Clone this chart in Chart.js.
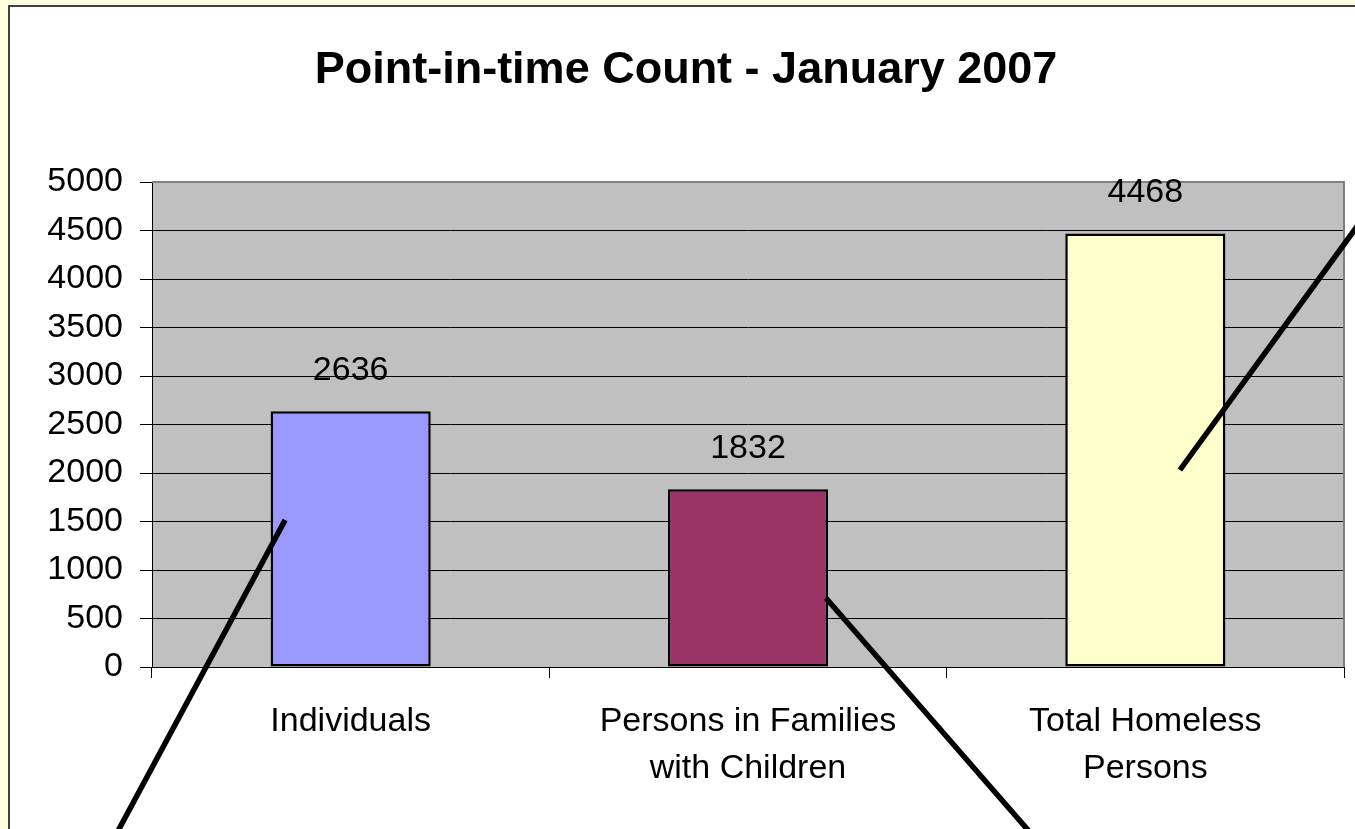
<!DOCTYPE html>
<html>
<head>
<meta charset="utf-8">
<script src="https://cdn.jsdelivr.net/npm/chart.js@4/dist/chart.umd.min.js"></script>
<style>
html,body{margin:0;padding:0;background:#FFFFE0;width:1355px;height:829px;overflow:hidden;}
#frame{position:absolute;left:8px;top:5px;width:1400px;height:900px;background:#fff;border:2px solid #404040;}
#wrap{position:absolute;left:0;top:0;width:1355px;height:829px;}
</style>
</head>
<body>
<div id="frame"></div>
<div id="wrap"><canvas id="c" width="1355" height="829"></canvas></div>
<script>
const titleText = "Point-in-time Count - January 2007";
const categories = [["Individuals"], ["Persons in Families", "with Children"], ["Total Homeless", "Persons"]];
const counts = [2636, 1832, 4468];
const barColors = ["#9999FF", "#993366", "#FFFFCC"];
const yTicks = [0, 500, 1000, 1500, 2000, 2500, 3000, 3500, 4000, 4500, 5000];
// decorative pointer lines, in data space: [categoryIndex, value]
const pointerLines = [
  [[-0.165, 1515], [-0.6, -1800]],
  [[1.196, 711], [1.73, -1800]],
  [[2.087, 2031], [2.6, 4920]]
];

const FONT = "'Liberation Sans', Arial, sans-serif";

const plotBg = {
  id: 'plotBg',
  beforeDraw(chart) {
    const {ctx, chartArea: a} = chart;
    ctx.save();
    ctx.fillStyle = '#C0C0C0';
    ctx.fillRect(a.left, a.top, a.right - a.left, a.bottom - a.top);
    ctx.restore();
  },
  afterDatasetsDraw(chart) {
    const {ctx, chartArea: a} = chart;
    ctx.save();
    ctx.strokeStyle = '#808080';
    ctx.lineWidth = 2;
    ctx.beginPath();
    ctx.moveTo(a.left, a.top);
    ctx.lineTo(a.right, a.top);
    ctx.lineTo(a.right, a.bottom);
    ctx.stroke();
    // data labels
    const meta = chart.getDatasetMeta(0);
    ctx.fillStyle = '#000';
    ctx.font = "34px " + FONT;
    ctx.textAlign = 'center';
    ctx.textBaseline = 'middle';
    meta.data.forEach((bar, i) => {
      ctx.fillText(String(counts[i]), bar.x, bar.y - 41);
    });
    ctx.restore();
  },
  afterDraw(chart) {
    const {ctx, scales} = chart;
    ctx.save();
    ctx.strokeStyle = '#000';
    ctx.lineWidth = 5.5;
    pointerLines.forEach(([p, q]) => {
      ctx.beginPath();
      ctx.moveTo(scales.x.getPixelForValue(p[0]), scales.y.getPixelForValue(p[1]));
      ctx.lineTo(scales.x.getPixelForValue(q[0]), scales.y.getPixelForValue(q[1]));
      ctx.stroke();
    });
    ctx.restore();
  }
};

new Chart(document.getElementById('c'), {
  type: 'bar',
  data: {
    labels: categories,
    datasets: [{
      data: counts,
      backgroundColor: barColors,
      borderColor: '#000',
      borderWidth: 2.5,
      borderSkipped: false,
      barPercentage: 0.403,
      categoryPercentage: 1
    }]
  },
  options: {
    responsive: false,
    animation: false,
    layout: {padding: {left: 28, right: 11, top: 0, bottom: 0}},
    plugins: {
      legend: {display: false},
      tooltip: {enabled: false},
      title: {
        display: true,
        text: titleText,
        color: '#000',
        font: {family: FONT, size: 45, weight: 'bold', lineHeight: 1.2},
        padding: {top: 44, bottom: 84}
      }
    },
    scales: {
      x: {
        grid: {display: true, drawOnChartArea: false, offset: true, color: '#000', tickLength: 11, tickColor: '#000'},
        border: {display: true, color: '#000', width: 1},
        ticks: {color: '#000', font: {family: FONT, size: 34, lineHeight: 1.36}, padding: 21, maxRotation: 0, autoSkip: false},
        afterFit(s) { s.height = 162; }
      },
      y: {
        min: 0, max: 5000,
        afterBuildTicks(s) { s.ticks = yTicks.map(v => ({value: v})); },
        grid: {color: '#000', lineWidth: 1, tickLength: 12, tickColor: '#000'},
        border: {display: true, color: '#000', width: 1},
        ticks: {color: '#000', font: {family: FONT, size: 34}, padding: 17, callback: v => String(v)},
        afterFit(s) { s.width = 124; }
      }
    }
  },
  plugins: [plotBg]
});
</script>
</body>
</html>
